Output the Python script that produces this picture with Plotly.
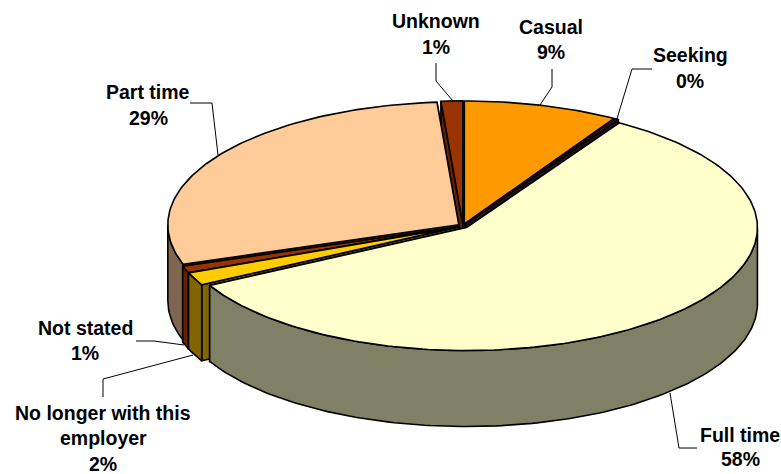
import numpy as np
import plotly.graph_objects as go

categories = ["Casual", "Seeking", "Full time", "No longer with this employer",
              "Not stated", "Part time", "Unknown"]
values = [8.6, 0.2, 58.4, 1.7, 0.9, 29.0, 1.2]
top_colors = ["#FF9900", "#4D1A33", "#FFFFCC", "#FFCC00", "#993300", "#FFCC99", "#993300"]
side_colors = ["#805000", "#2E1020", "#808066", "#806600", "#662200", "#806650", "#662200"]
paint_order = [6, 0, 1, 5, 4, 3, 2]

label_lines = [
    (["Unknown", "1%"], 436, [21, 47]),
    (["Casual", "9%"], 551, [27, 52]),
    (["Seeking", "0%"], 690, [55, 81]),
    (["Part time", "29%"], 148, [92, 118]),
    (["Not stated", "1%"], 85, [328, 353]),
    (["No longer with this", "employer", "2%"], 103, [413, 438, 464]),
    (["Full time", "58%"], 740, [435, 459]),
]
leaders = [
    ([436, 436, 453], [63, 81, 101]),
    ([552, 552, 540], [69, 87, 105]),
    ([652, 632, 616], [69, 69, 122]),
    ([190, 212, 218], [103, 103, 155]),
    ([136, 154, 184], [341, 341, 345]),
    ([103, 103, 193], [397, 379, 355]),
    ([697, 679, 670], [448, 448, 393]),
]

CX, CY, RX, RY, DEPTH, EXPLODE = 463.0, 226.0, 291.0, 123.0, 76.0, 5.0
LW = 1.6

v = np.array(values, dtype=float)
edges = np.concatenate([[0], np.cumsum(v) / v.sum() * 2 * np.pi])

fig = go.Figure()


def poly(xs, ys, color):
    xs, ys = list(xs), list(ys)
    fig.add_trace(go.Scatter(x=xs + xs[:1], y=ys + ys[:1], mode="lines", fill="toself",
                             fillcolor=color, line=dict(color="black", width=LW),
                             hoverinfo="skip", showlegend=False))


for i in paint_order:
    a0, a1 = edges[i], edges[i + 1]
    mid = (a0 + a1) / 2
    ax = CX + EXPLODE * np.sin(mid)
    ay = CY - EXPLODE * RY / RX * np.cos(mid)
    n = max(3, int(np.degrees(a1 - a0)))
    t = np.linspace(a0, a1, n)
    ex = ax + RX * np.sin(t)
    ey = ay - RY * np.cos(t)
    # radial walls, the one further back first
    for k in ([0, -1] if ey[0] < ey[-1] else [-1, 0]):
        poly([ax, ex[k], ex[k], ax], [ay, ey[k], ey[k] + DEPTH, ay + DEPTH], side_colors[i])
    # outer wall on the near half
    lo, hi = max(a0, np.pi / 2), min(a1, 1.5 * np.pi)
    if hi > lo:
        w = np.linspace(lo, hi, max(3, int(np.degrees(hi - lo))))
        wx = ax + RX * np.sin(w)
        wy = ay - RY * np.cos(w)
        poly(np.concatenate([wx, wx[::-1]]), np.concatenate([wy, wy[::-1] + DEPTH]), side_colors[i])
    # top face
    poly(np.concatenate([[ax], ex]), np.concatenate([[ay], ey]), top_colors[i])

for lx, ly in leaders:
    fig.add_trace(go.Scatter(x=lx, y=ly, mode="lines", line=dict(color="black", width=1),
                             hoverinfo="skip", showlegend=False))

for lines, x, ys in label_lines:
    for line, y in zip(lines, ys):
        fig.add_annotation(x=x, y=y, text="<b>%s</b>" % line, showarrow=False,
                           xanchor="center", yanchor="middle",
                           font=dict(family="Liberation Sans", size=19.5, color="black"))

fig.update_layout(
    width=781, height=474, margin=dict(l=0, r=0, t=0, b=0),
    paper_bgcolor="white", plot_bgcolor="white", showlegend=False,
    xaxis=dict(range=[0, 781], visible=False, fixedrange=True),
    yaxis=dict(range=[474, 0], visible=False, fixedrange=True),
)
fig.write_html("out.html", config={"displayModeBar": False},
               post_script="document.body.style.margin='0';document.documentElement.style.overflow='hidden';")
